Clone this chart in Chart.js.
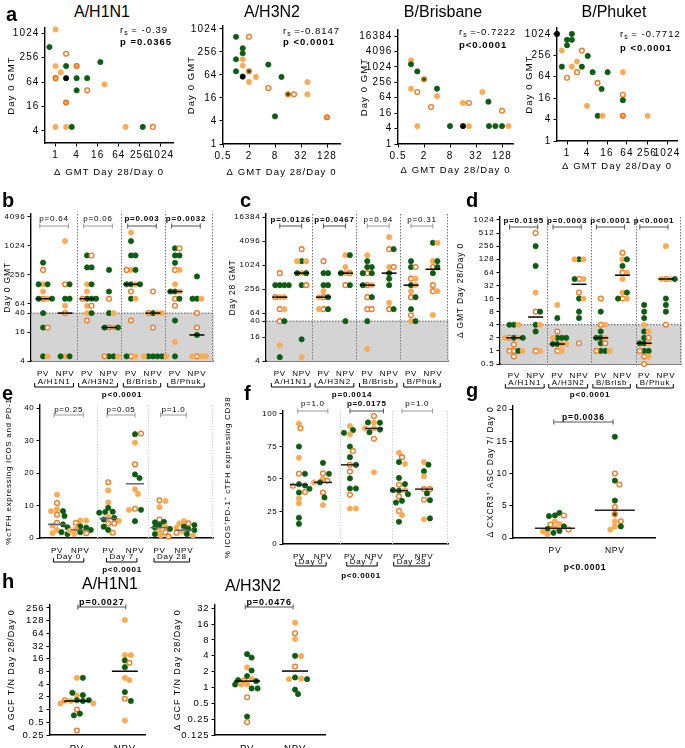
<!DOCTYPE html>
<html><head><meta charset="utf-8">
<script src="https://cdn.jsdelivr.net/npm/chart.js@4.4.1/dist/chart.umd.min.js"></script>
<style>
html,body{margin:0;padding:0;background:#fff;}
#fig{position:relative;width:685px;height:748px;overflow:hidden;font-family:"Liberation Sans",Arial,sans-serif;background:#fff;}
#fig canvas{position:absolute;}
.t{position:absolute;white-space:nowrap;color:#000;line-height:1;}
.L{font-weight:bold;font-size:20px;transform:translateY(-50%);}
.T{font-size:16px;transform:translate(-50%,-50%);}
.rs{font-size:9.5px;letter-spacing:1px;transform:translateY(-50%);}
.rs sub{font-size:7px;vertical-align:-2px;letter-spacing:0;}
.rs.b{font-weight:bold;}
</style></head><body><div id="fig"></div>
<script>
// ---------------- DATA ----------------
// panel a: [ΔGMT Day28/Day0, Day0 GMT, group]  g=green, o=orange, w=open orange, k=black, r=orange ringed, q=green ringed
const A_H1N1 = [[1,1280,'o'],[0.67,470,'g'],[2,320,'w'],[1,160,'o'],[2,160,'g'],[4,160,'r'],[19,200,'g'],[1.4,111,'o'],[1,80,'r'],[2,80,'k'],[4,80,'g'],[8,80,'g'],[4,40,'g'],[8,40,'w'],[25,56,'o'],[2,20,'r'],[1,5,'o'],[2,5,'o'],[2.9,5,'g'],[100,5,'o'],[310,5,'g'],[600,5,'w']];
const A_H3N2 = [[1,640,'g'],[2,640,'w'],[1.43,320,'g'],[1.43,237,'g'],[1,165,'g'],[1.43,165,'o'],[5.6,120,'g'],[1.43,113,'o'],[1,80,'g'],[2,80,'q'],[1.43,58,'k'],[2,42,'o'],[2.9,57,'o'],[11.3,57,'g'],[5.6,29,'w'],[45,42,'o'],[45,20,'o'],[16,20,'q'],[22,20,'w'],[8,5.3,'g'],[128,5,'r']];
const B_BRIS = [[1,1850,'o'],[1,1300,'g'],[1.4,680,'g'],[2,335,'q'],[1,145,'o'],[1.4,107,'w'],[4,145,'g'],[4,74,'o'],[2.9,28,'w'],[16,40,'o'],[22,40,'w'],[45,107,'o'],[62,45,'g'],[128,20,'w'],[1.4,5,'o'],[8,5,'g'],[16,5,'k'],[22,5,'o'],[64,5,'g'],[90,5,'g'],[128,5,'g'],[180,5,'o']];
const B_PHUK = [[0.5,1024,'k'],[1,700,'g'],[1.4,700,'g'],[1.4,1024,'g'],[1,490,'g'],[0.7,350,'o'],[2.8,350,'w'],[4.2,246,'g'],[0.7,123,'g'],[1.4,123,'o'],[2,171,'o'],[2.8,123,'g'],[2,86,'w'],[1,60,'w'],[5.9,86,'g'],[16.7,86,'g'],[48,86,'o'],[8.3,43,'w'],[11,29,'g'],[48,20,'w'],[48,14,'g'],[4,9.7,'o'],[8.4,5.1,'g'],[11.7,5.1,'o'],[48,5.1,'r'],[266,5.1,'o']];
const A_RS = ['-0.39','-0.8147','-0.7222','-0.7712'];
const A_P = ['0.0365','<0.0001','<0.0001','<0.0001'];

// panel b: Day 0 GMT per group
const B_PV_H1 = [[453,'g'],[320,'w'],[160,'o'],[160,'g'],[160,'g'],[113,'o'],[80,'w'],[80,'o'],[80,'g'],[80,'g'],[40,'g'],[20,'g'],[20,'w'],[5,'g'],[5,'o']];
const B_NPV_H1 = [[1280,'o'],[160,'w'],[160,'g'],[80,'g'],[80,'g'],[57,'o'],[40,'w'],[5,'o'],[5,'g'],[5,'g']];
const B_PV_H3 = [[640,'g'],[640,'w'],[360,'g'],[360,'g'],[160,'o'],[160,'g'],[113,'o'],[80,'g'],[80,'g'],[80,'w'],[80,'g'],[57,'o'],[57,'w'],[40,'o'],[40,'g'],[28,'w']];
const B_NPV_H3 = [[320,'g'],[113,'g'],[80,'w'],[40,'g'],[40,'o'],[20,'w'],[20,'o'],[20,'g'],[20,'g'],[5,'g'],[5,'g'],[5,'w'],[5,'o']];
const B_PV_BR = [[1920,'o'],[1280,'g'],[640,'g'],[640,'g'],[320,'o'],[320,'g'],[320,'w'],[160,'g'],[160,'o'],[160,'g'],[160,'g'],[113,'w'],[80,'g'],[80,'o'],[28,'w'],[5,'w'],[5,'o'],[5,'g']];
const B_NPV_BR = [[113,'w'],[40,'g'],[40,'o'],[40,'w'],[40,'o'],[20,'w'],[5,'g'],[5,'g'],[5,'g'],[5,'g'],[5,'o'],[5,'o']];
const B_PV_PH = [[905,'g'],[905,'w'],[640,'g'],[640,'g'],[450,'g'],[320,'w'],[320,'o'],[160,'o'],[113,'g'],[113,'o'],[113,'g'],[80,'w'],[80,'g'],[57,'w'],[28,'g'],[10,'o'],[5,'g']];
const B_NPV_PH = [[233,'g'],[80,'g'],[80,'o'],[80,'g'],[40,'w'],[20,'w'],[14,'g'],[5,'w'],[5,'o'],[5,'o'],[5,'o']];
const B_MED = [80,40,80,20,160,40,113,14];

// panel c: Day 28 GMT
const C_PV_H1 = [[640,'w'],[320,'g'],[320,'g'],[320,'g'],[320,'g'],[160,'o'],[160,'o'],[160,'w'],[80,'w'],[80,'o'],[40,'w'],[40,'g'],[10,'o'],[5,'g']];
const C_NPV_H1 = [[2560,'w'],[1280,'g'],[1280,'o'],[1280,'o'],[640,'o'],[640,'g'],[640,'g'],[320,'g'],[320,'w'],[14,'g'],[5,'o']];
const C_PV_H3 = [[1280,'w'],[640,'g'],[640,'g'],[320,'g'],[320,'g'],[226,'o'],[160,'w'],[160,'g'],[160,'o'],[80,'w'],[80,'g'],[80,'o']];
const C_NPV_H3 = [[1810,'o'],[1810,'g'],[910,'o'],[640,'o'],[640,'w'],[640,'g'],[320,'w'],[320,'g'],[40,'g']];
const C_PV_BR = [[1810,'o'],[1280,'g'],[910,'g'],[910,'g'],[640,'w'],[640,'g'],[640,'g'],[320,'w'],[320,'o'],[320,'g'],[160,'w'],[160,'g'],[80,'w'],[80,'w'],[40,'g'],[8,'o']];
const C_NPV_BR = [[5120,'o'],[2560,'w'],[2560,'g'],[910,'o'],[910,'w'],[640,'g'],[466,'g'],[320,'g'],[116,'o'],[80,'w'],[80,'g']];
const C_PV_PH = [[1280,'g'],[910,'g'],[910,'w'],[466,'w'],[466,'o'],[320,'g'],[320,'o'],[226,'o'],[160,'w'],[160,'g'],[80,'g'],[56,'w'],[40,'o'],[40,'g']];
const C_NPV_PH = [[3700,'g'],[3700,'o'],[1280,'o'],[1280,'g'],[910,'w'],[910,'g'],[640,'g'],[320,'w'],[226,'w'],[226,'o'],[57,'o']];
const C_MED = [160,640,160,640,320,640,320,800];

// panel d: ΔGMT Day 28/Day 0
const D_PV_H1 = [[4,'g'],[4,'o'],[4,'g'],[2,'g'],[2,'o'],[2,'w'],[2,'g'],[2,'o'],[1.4,'w'],[1,'w'],[1,'g'],[1,'w'],[1,'o'],[0.74,'w']];
const D_NPV_H1 = [[512,'w'],[256,'g'],[90,'g'],[22,'o'],[8,'w'],[8,'g'],[4,'g'],[4,'o'],[2.8,'g'],[1,'w'],[1,'o']];
const D_PV_H3 = [[11.4,'o'],[5.7,'g'],[2.8,'w'],[2,'g'],[2,'g'],[2,'o'],[2,'g'],[1.44,'g'],[1.44,'o'],[1.44,'g'],[1.44,'o'],[1,'w'],[1,'o']];
const D_NPV_H3 = [[128,'g'],[128,'o'],[128,'o'],[45,'w'],[45,'o'],[45,'g'],[22,'w'],[16,'g'],[16,'o'],[8,'g'],[5.7,'g'],[1.5,'w']];
const D_PV_BR = [[16,'w'],[8,'g'],[4,'w'],[4,'o'],[2.8,'g'],[2,'g'],[2,'o'],[2,'g'],[1.5,'g'],[1.5,'w'],[1,'g'],[1,'g'],[1,'w'],[1,'o']];
const D_NPV_BR = [[180,'w'],[128,'o'],[128,'g'],[90,'g'],[63,'w'],[63,'o'],[45,'o'],[22,'o'],[22,'g'],[16,'w'],[16,'o'],[16,'g']];
const D_PV_PH = [[11.4,'g'],[8,'g'],[5.7,'g'],[4,'o'],[2.8,'g'],[2.8,'o'],[2,'g'],[2,'w'],[1.5,'g'],[1.5,'o'],[1.5,'g'],[1,'g'],[1,'g'],[1,'w'],[0.74,'w'],[0.74,'o'],[0.5,'w']];
const D_NPV_PH = [[256,'o'],[45,'w'],[45,'o'],[45,'o'],[45,'g'],[16,'g'],[11.4,'g'],[8,'g'],[4,'w']];
const D_MED = [2,6,1.44,34,2,55,1.5,45];

// panel e: % cTFH ICOS+PD-1+
const E_PV_D0 = [[13.4,'o'],[10.8,'w'],[8.9,'o'],[8.3,'g'],[8.3,'o'],[7.2,'w'],[6.8,'g'],[4.7,'w'],[4.2,'g'],[3.8,'o'],[3.3,'g'],[2.5,'o'],[1.8,'g'],[1.5,'o'],[1.2,'g']];
const E_NPV_D0 = [[5.4,'o'],[5.4,'o'],[4.7,'w'],[3.6,'g'],[3.2,'g'],[2.8,'o'],[2.5,'g'],[2.2,'o'],[1.8,'g'],[1.5,'w'],[1.2,'o']];
const E_PV_D7 = [[17.2,'w'],[14.7,'o'],[11,'o'],[9.3,'g'],[8.1,'g'],[8,'g'],[7.8,'g'],[6.6,'o'],[6.2,'g'],[5.7,'g'],[5.3,'o'],[4.5,'w'],[4.5,'w'],[3.5,'g'],[2.5,'g'],[1.6,'w']];
const E_NPV_D7 = [[32,'g'],[32.2,'w'],[29.4,'o'],[22.7,'w'],[19.6,'g'],[18.5,'g'],[15,'o'],[13.6,'o'],[9,'w'],[8.7,'g'],[8.7,'o'],[5.2,'g']];
const E_PV_D28 = [[11.6,'w'],[11.4,'o'],[9.5,'o'],[5.7,'w'],[5,'g'],[4.8,'g'],[4.1,'g'],[3.5,'o'],[3.2,'g'],[2.8,'g'],[2.3,'o'],[1.8,'w'],[1.2,'g'],[0.8,'o'],[0.5,'w']];
const E_NPV_D28 = [[5.2,'o'],[4.5,'w'],[4.5,'o'],[4,'g'],[3.5,'g'],[3.2,'o'],[2.8,'g'],[2.4,'g'],[2,'o'],[1.6,'w'],[1.2,'g'],[0.8,'o']];
const E_MED = [4.2,2.5,6,16.7,3.2,2.4];

// panel f: % ICOS+PD-1+ cTFH expressing CD38
const F_PV_D0 = [[92.7,'o'],[89,'w'],[75,'g'],[66.3,'o'],[54,'w'],[54,'g'],[46,'g'],[45,'g'],[44.8,'w'],[42.5,'g'],[39.6,'g'],[40,'w'],[35.2,'o'],[31.3,'o'],[20.2,'g'],[15.5,'g']];
const F_NPV_D0 = [[62.4,'g'],[54.4,'w'],[54,'g'],[50.5,'o'],[48.7,'w'],[47.4,'g'],[47.4,'o'],[39.6,'w'],[35.8,'g'],[30,'o']];
const F_PV_D7 = [[90.7,'o'],[87.6,'g'],[84.5,'o'],[85.5,'g'],[75,'g'],[71.5,'w'],[66.8,'g'],[60.9,'w'],[60.9,'g'],[55.7,'w'],[50.5,'g'],[42.7,'g'],[42.7,'g'],[37.8,'w'],[27.3,'o'],[27.3,'o']];
const F_NPV_D7 = [[98.4,'w'],[93.3,'o'],[93.3,'g'],[93.5,'g'],[88.9,'o'],[88,'g'],[86,'g'],[89,'o'],[81,'w'],[55.2,'o']];
const F_PV_D28 = [[70.2,'o'],[66.8,'w'],[63,'g'],[61.7,'o'],[50.8,'g'],[45.6,'w'],[46.1,'g'],[41,'g'],[41.5,'o'],[41.5,'g'],[36.5,'w'],[38.3,'g'],[33.2,'g'],[31.9,'g'],[25.4,'w'],[22.3,'o'],[17.1,'g']];
const F_NPV_D28 = [[63,'o'],[61,'g'],[56,'g'],[52.1,'o'],[42.2,'w'],[42.2,'w'],[38.9,'g'],[34,'w'],[33.7,'g'],[19,'o'],[19.7,'g']];
const F_MED = [45.6,47.4,60.9,88.9,41,42.2];

// panel g: Δ CXCR3+ ASC Day 7/Day 0
const G_PV = [[3.5,'g'],[3.9,'g'],[3.4,'g'],[3.5,'w'],[2.6,'o'],[2.2,'o'],[2.1,'w'],[1.8,'g'],[1.6,'o'],[1.4,'g'],[1.3,'w'],[1.1,'g'],[1,'o'],[0.8,'g'],[0.6,'o']];
const G_NPV = [[15.7,'g'],[10,'w'],[8.9,'g'],[8.3,'w'],[5.8,'g'],[4.8,'w'],[3.7,'q'],[2.6,'o'],[2.6,'w'],[1.8,'o'],[1.8,'g'],[1.3,'o']];
const G_MED = [1.5,4.3];

// panel h: Δ GCF T/N Day 28/Day 0
const H1_PV = [[5.65,'o'],[5.65,'g'],[2.2,'o'],[2.2,'g'],[2.5,'g'],[1.67,'g'],[1.6,'g'],[1.6,'o'],[1.67,'g'],[1.67,'w'],[1.4,'o'],[1.4,'o'],[1,'w'],[0.8,'g'],[0.73,'g'],[0.32,'w']];
const H1_NPV = [[132,'o'],[19.5,'o'],[19.5,'o'],[14.6,'g'],[12.8,'w'],[10.1,'g'],[5.65,'o'],[5,'o'],[2.6,'g'],[1.8,'w'],[1.6,'g'],[0.55,'o']];
const H1_MED = [1.6,8.1];
const H2_PV = [[4.3,'g'],[3.7,'g'],[2.4,'o'],[2.1,'g'],[1.64,'g'],[1.46,'o'],[1.36,'w'],[1.32,'g'],[1.38,'g'],[1.14,'o'],[1.14,'o'],[1.14,'g'],[0.96,'g'],[0.96,'g'],[0.65,'w'],[0.28,'g'],[0.22,'w']];
const H2_NPV = [[17,'o'],[10.7,'w'],[8.3,'o'],[4,'g'],[3.96,'o'],[2.5,'w'],[1.55,'g'],[1.48,'o'],[1.44,'o'],[1.44,'g'],[0.91,'g'],[0.75,'g']];
const H2_MED = [1.32,2.05];

// labels and ticks
const PV8 = ['PV','NPV','PV','NPV','PV','NPV','PV','NPV'];
const PV6 = ['PV','NPV','PV','NPV','PV','NPV'];
const PV2 = ['PV','NPV'];
const STRAINS = ['A/H1N1','A/H3N2','B/Brisb','B/Phuk'];
const DAYS = ['Day 0','Day 7','Day 28'];
const TK_A1X=[1,4,16,64,256,1024], TK_A1Y=[4,16,64,256,1024];
const TK_A2X=[0.5,2,8,32,128], TK_A2Y=[1,4,16,64,256,1024];
const TK_A3Y=[1,4,16,64,256,1024,4096,16384];
const TK_BY=[4,16,40,64,256,1024,4096];
const TK_CY=[4,16,40,64,256,1024,4096,16384];
const TK_DY=[0.5,1,2,4,8,16,32,64,128,256,512,1024];
const TK_EY=[0,10,20,30,40], TK_FY=[0,25,50,75,100], TK_GY=[0,5,10,15,20];
const TK_H1Y=[0.25,0.5,1,2,4,8,16,32,64,128,256];
const TK_H2Y=[0.125,0.25,0.5,1,2,4,8,16,32];

// ---------------- DRAWING ----------------
const fig=document.getElementById('fig');
const FONT='"Liberation Sans", Arial, sans-serif';
const COL={g:['#0b5d12','#0b5d12'],o:['#fbab52','#fbab52'],w:['#ffffff','#f3761f'],k:['#000000','#000000'],r:['#fbab52','#ee6c18'],q:['#0b5d12','#f3761f']};

function yPixFn(type,min,max,top,bot){
  if(type==='logarithmic'){const a=Math.log2(min),b=Math.log2(max);return v=>bot-(Math.log2(v)-a)/(b-a)*(bot-top);}
  return v=>bot-(v-min)/(max-min)*(bot-top);
}
// beeswarm spreading of points inside a category column
function swarm(cols,pos,yPix,unitPx,minD){
  const pts=[];
  cols.forEach((col,ci)=>{
    const placed=[];
    col.forEach(([v,t])=>{
      const py=yPix(v);let off=0;
      for(let k=0;k<60;k++){
        const cands=k===0?[0]:[k*1.5,-k*1.5];let ok=null;
        for(const c of cands){if(placed.every(p=>Math.hypot(p.x-c,p.y-py)>=minD)){ok=c;break;}}
        if(ok!==null){off=ok;break;}
      }
      placed.push({x:off,y:py});
      pts.push({x:pos[ci]+off/unitPx,y:v,t});
    });
  });
  return pts;
}
function fnt(size,bold){return (bold?'bold ':'')+size+'px '+FONT;}

function extrasPlugin(c){
  const ex=c.ex||{}, ox=c.box[0], oy=c.box[1], fs=c.pfs||c.fs;
  return {id:'extras',
    beforeDraw(ch){ch.ctx.letterSpacing=(c.ls||0)+'px';},
    beforeDatasetsDraw(ch){
      const {ctx,chartArea:A,scales:{x,y}}=ch;ctx.save();
      if(ex.shade!=null){const yy=y.getPixelForValue(ex.shade);ctx.fillStyle='#d4d4d4';ctx.fillRect(A.left+0.7,yy,A.right-A.left,A.bottom-yy);
        ctx.strokeStyle='#555';ctx.setLineDash([1.5,1.5]);ctx.lineWidth=1;ctx.beginPath();ctx.moveTo(A.left,yy);ctx.lineTo(A.right,yy);ctx.stroke();}
      if(ex.seps){ctx.strokeStyle=ex.sepColor||'#777';ctx.setLineDash([1.5,1.5]);ctx.lineWidth=1;
        ex.seps.forEach(s=>{const xx=Math.round(x.getPixelForValue(s))-0.5;ctx.beginPath();ctx.moveTo(xx,A.top);ctx.lineTo(xx,A.bottom);ctx.stroke();});}
      ctx.restore();
    },
    afterDatasetsDraw(ch){
      const {ctx,scales:{x,y}}=ch;ctx.save();ctx.setLineDash([]);
      if(ex.med){ctx.strokeStyle=ex.medColor||'#000';ctx.lineWidth=1.5;
        ex.med.forEach((m,i)=>{const px=x.getPixelForValue(ex.pos[i]);const yy=y.getPixelForValue(m);ctx.beginPath();ctx.moveTo(px-ex.mw,yy);ctx.lineTo(px+ex.mw,yy);ctx.stroke();});}
      ctx.textAlign='center';ctx.textBaseline='middle';ctx.lineWidth=1;
      if(ex.br){const B=ex.br;B.items.forEach(([a,b,lab,bold])=>{
        const x1=x.getPixelForValue(a),x2=x.getPixelForValue(b),yy=B.y-oy;
        ctx.strokeStyle=bold?'#555':'#999';ctx.beginPath();ctx.moveTo(x1,yy-2.5);ctx.lineTo(x1,yy+2.5);ctx.moveTo(x1,yy);ctx.lineTo(x2,yy);ctx.moveTo(x2,yy-2.5);ctx.lineTo(x2,yy+2.5);ctx.stroke();
        ctx.fillStyle='#000';ctx.font=fnt(fs,bold);ctx.fillText(lab,(x1+x2)/2,B.ty-oy);});}
      if(ex.groups){const G=ex.groups;ctx.font=fnt(fs,false);ctx.strokeStyle='#000';ctx.fillStyle='#000';
        G.items.forEach(([xc,lab])=>{const px=x.getPixelForValue(xc);const w=ctx.measureText(lab).width;ctx.fillText(lab,px,G.y-oy);
          const ly=G.ly-oy;ctx.beginPath();ctx.moveTo(px-w/2-3,ly-4);ctx.lineTo(px-w/2-3,ly);ctx.lineTo(px+w/2+3,ly);ctx.lineTo(px+w/2+3,ly-4);ctx.stroke();});}
      if(ex.foot){const [fx,fy,lab,bold]=ex.foot;ctx.fillStyle='#000';ctx.font=fnt(fs,bold);ctx.fillText(lab,fx-ox,fy-oy);}
      ctx.restore();
    }
  };
}

function panel(c){
  const [cx,cy,cw,ch]=c.box,[l,t,r,b]=c.area;
  const cv=document.createElement('canvas');
  cv.width=cw;cv.height=ch;
  cv.style.left=cx+'px';cv.style.top=cy+'px';cv.style.width=cw+'px';cv.style.height=ch+'px';
  fig.appendChild(cv);
  const tf={family:FONT,size:c.fs};
  const ttl={family:FONT,size:c.tfs||c.fs};
  const mk=(ax,isX)=>({
    type:ax.type,min:ax.min,max:ax.max,position:isX?'bottom':'left',
    afterFit:s=>{if(isX)s.height=cy+ch-b;else s.width=l-cx;},
    afterBuildTicks:s=>{s.ticks=ax.ticks.map(v=>({value:v}));},
    ticks:{autoSkip:false,maxRotation:0,minRotation:0,color:'#000',font:tf,padding:isX?(ax.pad??3):2,
      callback:(v,i)=>ax.labels?ax.labels[i]:String(v)},
    grid:{display:ax.marks!==false,drawOnChartArea:false,drawTicks:true,tickLength:3.5,color:'#000',lineWidth:1},
    border:{display:true,color:'#000',width:1.4},
    title:{display:!!ax.title,text:ax.title||'',color:'#000',font:ttl,padding:{top:0,bottom:0}}
  });
  const isOpen=t=>t==='w'||t==='r'||t==='q';
  new Chart(cv,{
    type:'scatter',
    data:{datasets:[{data:c.points,showLine:false,clip:false,
      pointRadius:k=>k.raw&&isOpen(k.raw.t)?2.4:2.6,
      pointHoverRadius:k=>k.raw&&isOpen(k.raw.t)?2.4:2.6,
      pointBorderWidth:k=>k.raw&&isOpen(k.raw.t)?1.3:0.8,
      pointBackgroundColor:k=>k.raw?COL[k.raw.t][0]:'#000',
      pointBorderColor:k=>k.raw?COL[k.raw.t][1]:'#000'}]},
    options:{responsive:false,animation:false,devicePixelRatio:1,events:[],
      layout:{padding:{left:0,top:t-cy,right:cx+cw-r,bottom:0}},
      plugins:{legend:{display:false},tooltip:{enabled:false}},
      scales:{x:mk(c.x,true),y:mk(c.y,false)}},
    plugins:[extrasPlugin(c)]
  });
}

function colPanel(c,cols){
  const [l,t,r,b]=c.area;
  const yp=yPixFn(c.y.type,c.y.min,c.y.max,t,b);
  const unit=(r-l)/(c.x.max-c.x.min);
  c.points=swarm(cols,c.x.ticks,yp,unit,c.minD||4.5);
  c.ex.pos=c.x.ticks;
  panel(c);
}
const toPts=a=>a.map(([x,y,t])=>({x,y,t}));

// ---- panel a ----
panel({box:[6,20,176,158],area:[45,25,173,143],fs:10,ls:1.1,tfs:9.5,points:toPts(A_H1N1),
  x:{type:'logarithmic',min:0.5,max:2260,ticks:TK_A1X,title:'Δ GMT Day 28/Day 0'},
  y:{type:'logarithmic',min:2,max:1390,ticks:TK_A1Y,title:'Day 0 GMT'}});
panel({box:[186,18,158,160],area:[223,25,340,144],fs:10,ls:1.1,tfs:9.5,points:toPts(A_H3N2),
  x:{type:'logarithmic',min:0.5,max:256,ticks:TK_A2X,title:'Δ GMT Day 28/Day 0'},
  y:{type:'logarithmic',min:1,max:1225,ticks:TK_A2Y,title:'Day 0 GMT'}});
panel({box:[359,20,160,156],area:[398,30,513,144],fs:10,ls:1.1,tfs:9.5,points:toPts(B_BRIS),
  x:{type:'logarithmic',min:0.5,max:230,ticks:TK_A2X,title:'Δ GMT Day 28/Day 0'},
  y:{type:'logarithmic',min:1,max:28300,ticks:TK_A3Y,title:'Day 0 GMT'}});
panel({box:[524,20,161,152],area:[557,25,677,141],fs:10,ls:1.1,tfs:9.5,points:toPts(B_PHUK),
  x:{type:'logarithmic',min:0.5,max:2048,ticks:TK_A1X,title:'Δ GMT Day 28/Day 0'},
  y:{type:'logarithmic',min:1,max:1500,ticks:TK_A2Y,title:'Day 0 GMT'}});

// ---- panel b ----
colPanel({box:[3,205,221,200],area:[31,214,213,361],fs:8,ls:0.8,tfs:8.5,
  x:{type:'linear',min:-0.55,max:7.73,ticks:[0,1,2,3,4,5,6,7],labels:PV8,marks:false,pad:4},
  y:{type:'logarithmic',min:4,max:4700,ticks:TK_BY,title:'Day 0 GMT'},
  ex:{shade:40,seps:[1.6,3.6,5.6,7.73],med:B_MED,mw:7.5,
    br:{y:226,ty:219,items:[[-0.15,1.15,'p=0.64',false],[1.85,3.15,'p=0.06',false],[3.85,5.15,'p=0.003',true],[5.85,7.15,'p=0.0032',true]]},
    groups:{y:382,ly:387,items:[[0.5,STRAINS[0]],[2.5,STRAINS[1]],[4.5,STRAINS[2]],[6.5,STRAINS[3]]]},
    foot:[122,395,'p<0.0001',true]}},
  [B_PV_H1,B_NPV_H1,B_PV_H3,B_NPV_H3,B_PV_BR,B_NPV_BR,B_PV_PH,B_NPV_PH]);

// ---- panel c ----
colPanel({box:[228,205,225,200],area:[266,214,448,361],fs:8,ls:0.8,tfs:8.5,
  x:{type:'linear',min:-0.63,max:7.69,ticks:[0,1,2,3,4,5,6,7],labels:PV8,marks:false,pad:4},
  y:{type:'logarithmic',min:4,max:19500,ticks:TK_CY,title:'Day 28 GMT'},
  ex:{shade:40,seps:[1.5,3.53,5.52,7.69],med:C_MED,mw:7.5,
    br:{y:226,ty:220,items:[[0,1,'p=0.0126',true],[2,3,'p=0.0467',true],[4,5,'p=0.94',false],[6,7,'p=0.31',false]]},
    groups:{y:382,ly:387,items:[[0.5,STRAINS[0]],[2.5,STRAINS[1]],[4.5,STRAINS[2]],[6.5,STRAINS[3]]]},
    foot:[352,395,'p=0.0014',true]}},
  [C_PV_H1,C_NPV_H1,C_PV_H3,C_NPV_H3,C_PV_BR,C_NPV_BR,C_PV_PH,C_NPV_PH]);

// ---- panel d ----
colPanel({box:[456,205,229,200],area:[500,217,683,364],fs:8,ls:0.8,tfs:8.5,
  x:{type:'linear',min:-0.64,max:7.71,ticks:[0,1,2,3,4,5,6,7],labels:PV8,marks:false,pad:3},
  y:{type:'logarithmic',min:0.5,max:1200,ticks:TK_DY,title:'Δ GMT Day 28/Day 0'},
  ex:{shade:4,seps:[1.56,3.58,5.69,7.71],med:D_MED,mw:7.5,
    br:{y:227,ty:221,items:[[-0.2,1.1,'p=0.0195',true],[1.8,3.1,'p=0.0003',true],[3.8,5.1,'p<0.0001',true],[5.8,7.1,'p<0.0001',true]]},
    groups:{y:383,ly:388,items:[[0.5,STRAINS[0]],[2.5,STRAINS[1]],[4.5,STRAINS[2]],[6.5,STRAINS[3]]]},
    foot:[590,395,'p<0.0001',true]}},
  [D_PV_H1,D_NPV_H1,D_PV_H3,D_NPV_H3,D_PV_BR,D_NPV_BR,D_PV_PH,D_NPV_PH]);

// ---- panel e ----
colPanel({box:[4,388,215,190],area:[40,405,213,538],fs:8,ls:0.7,tfs:8,minD:5,
  x:{type:'linear',min:-0.73,max:6.7,ticks:[0,1,2.2,3.35,4.4,5.45],labels:PV6,marks:false,pad:4},
  y:{type:'linear',min:0,max:41,ticks:TK_EY,title:'%cTFH expressing ICOS and PD-1'},
  ex:{seps:[1.76,3.95,6.7],sepColor:'#cfcfcf',med:E_MED,mw:9,medColor:'#666',
    br:{y:415,ty:410,items:[[-0.13,1.13,'p=0.25',false],[2.15,3.35,'p=0.05',false],[4.45,5.55,'p=1.0',false]]},
    groups:{y:557,ly:562,items:[[0.5,DAYS[0]],[2.78,DAYS[1]],[4.93,DAYS[2]]]},
    foot:[122,570,'p<0.0001',true]}},
  [E_PV_D0,E_NPV_D0,E_PV_D7,E_NPV_D7,E_PV_D28,E_NPV_D28]);

// ---- panel f ----
colPanel({box:[223,388,229,195],area:[283,411,448,544],fs:8,ls:0.7,tfs:8,minD:5,
  x:{type:'linear',min:-0.65,max:6.08,ticks:[0,0.98,2.08,3.06,4.08,5.1],labels:PV6,marks:false,pad:4},
  y:{type:'linear',min:0,max:102.3,ticks:TK_FY,title:'% ICOS⁺PD-1⁺ cTFH expressing CD38'},
  ex:{seps:[1.71,3.84,6.08],sepColor:'#cfcfcf',med:F_MED,mw:9,medColor:'#222',
    br:{y:411,ty:404,items:[[-0.05,1.18,'p=1.0',false],[2.08,3.45,'p=0.0175',true],[4.2,5.45,'p=1.0',false]]},
    groups:{y:562,ly:566,items:[[0.49,DAYS[0]],[2.57,DAYS[1]],[4.59,DAYS[2]]]},
    foot:[361,576,'p<0.0001',true]}},
  [F_PV_D0,F_NPV_D0,F_PV_D7,F_NPV_D7,F_PV_D28,F_NPV_D28]);

// ---- panel g ----
colPanel({box:[486,398,199,180],area:[513,406,655,538],fs:8.5,ls:0.8,tfs:8.5,minD:5,
  x:{type:'linear',min:-0.7,max:1.67,ticks:[0,1],labels:PV2,marks:false,pad:4},
  y:{type:'linear',min:0,max:20.47,ticks:TK_GY,title:'Δ CXCR3⁺ ASC Day 7/ Day 0'},
  ex:{med:G_MED,mw:20,medColor:'#222',
    br:{y:422,ty:418,items:[[-0.02,0.97,'p=0.0036',true]]},
    foot:[585,568,'p<0.0001',true]}},
  [G_PV,G_NPV]);

// ---- panel h ----
colPanel({box:[6,595,145,153],area:[50,605,145,735],fs:9.5,ls:0.9,tfs:9,pfs:9,minD:5,
  x:{type:'linear',min:-0.56,max:1.42,ticks:[0,1],labels:PV2,marks:false,pad:4},
  y:{type:'logarithmic',min:0.25,max:300,ticks:TK_H1Y,title:'Δ GCF T/N Day 28/Day 0'},
  ex:{med:H1_MED,mw:13,br:{y:607,ty:603,items:[[0.02,1.02,'p=0.0027',true]]}}},
  [H1_PV,H1_NPV]);
colPanel({box:[172,595,162,153],area:[215,605,325,735],fs:9.5,ls:0.9,tfs:9,pfs:9,minD:5,
  x:{type:'linear',min:-0.67,max:1.625,ticks:[0,1],labels:PV2,marks:false,pad:4},
  y:{type:'logarithmic',min:0.125,max:36.9,ticks:TK_H2Y,title:'Δ GCF T/N Day 28/Day 0'},
  ex:{med:H2_MED,mw:13,br:{y:607,ty:603,items:[[-0.04,0.96,'p=0.0476',true]]}}},
  [H2_PV,H2_NPV]);

// ---- HTML text: panel letters, titles, correlation stats ----
function txt(cls,x,y,html){const d=document.createElement('div');d.className='t '+cls;d.style.left=x+'px';d.style.top=y+'px';d.innerHTML=html;fig.appendChild(d);}
[['a',6,14],['b',2,200],['c',240,200],['d',466,200],['e',2,393],['f',244,393],['g',466,390],['h',2,581]].forEach(([s,x,y])=>txt('L',x,y,s));
[['A/H1N1',102,12],['A/H3N2',272,12],['B/Brisbane',443,12],['B/Phuket',614,12],['A/H1N1',110,584],['A/H3N2',253,586]].forEach(([s,x,y])=>txt('T',x,y,s));
const RS_POS=[[120,30,42],[283,31,42],[459,32,45],[620,34,48]];
RS_POS.forEach(([x,y1,y2],i)=>{
  const sp=i===0||i===3?' = ':' =';
  txt('rs',x,y1,'r<sub>s</sub>'+sp+A_RS[i]);
  const pp=A_P[i].startsWith('<')?(i===2?'p':'p '):'p =';
  txt('rs b',x,y2,pp+A_P[i]);
});
</script></body></html>
